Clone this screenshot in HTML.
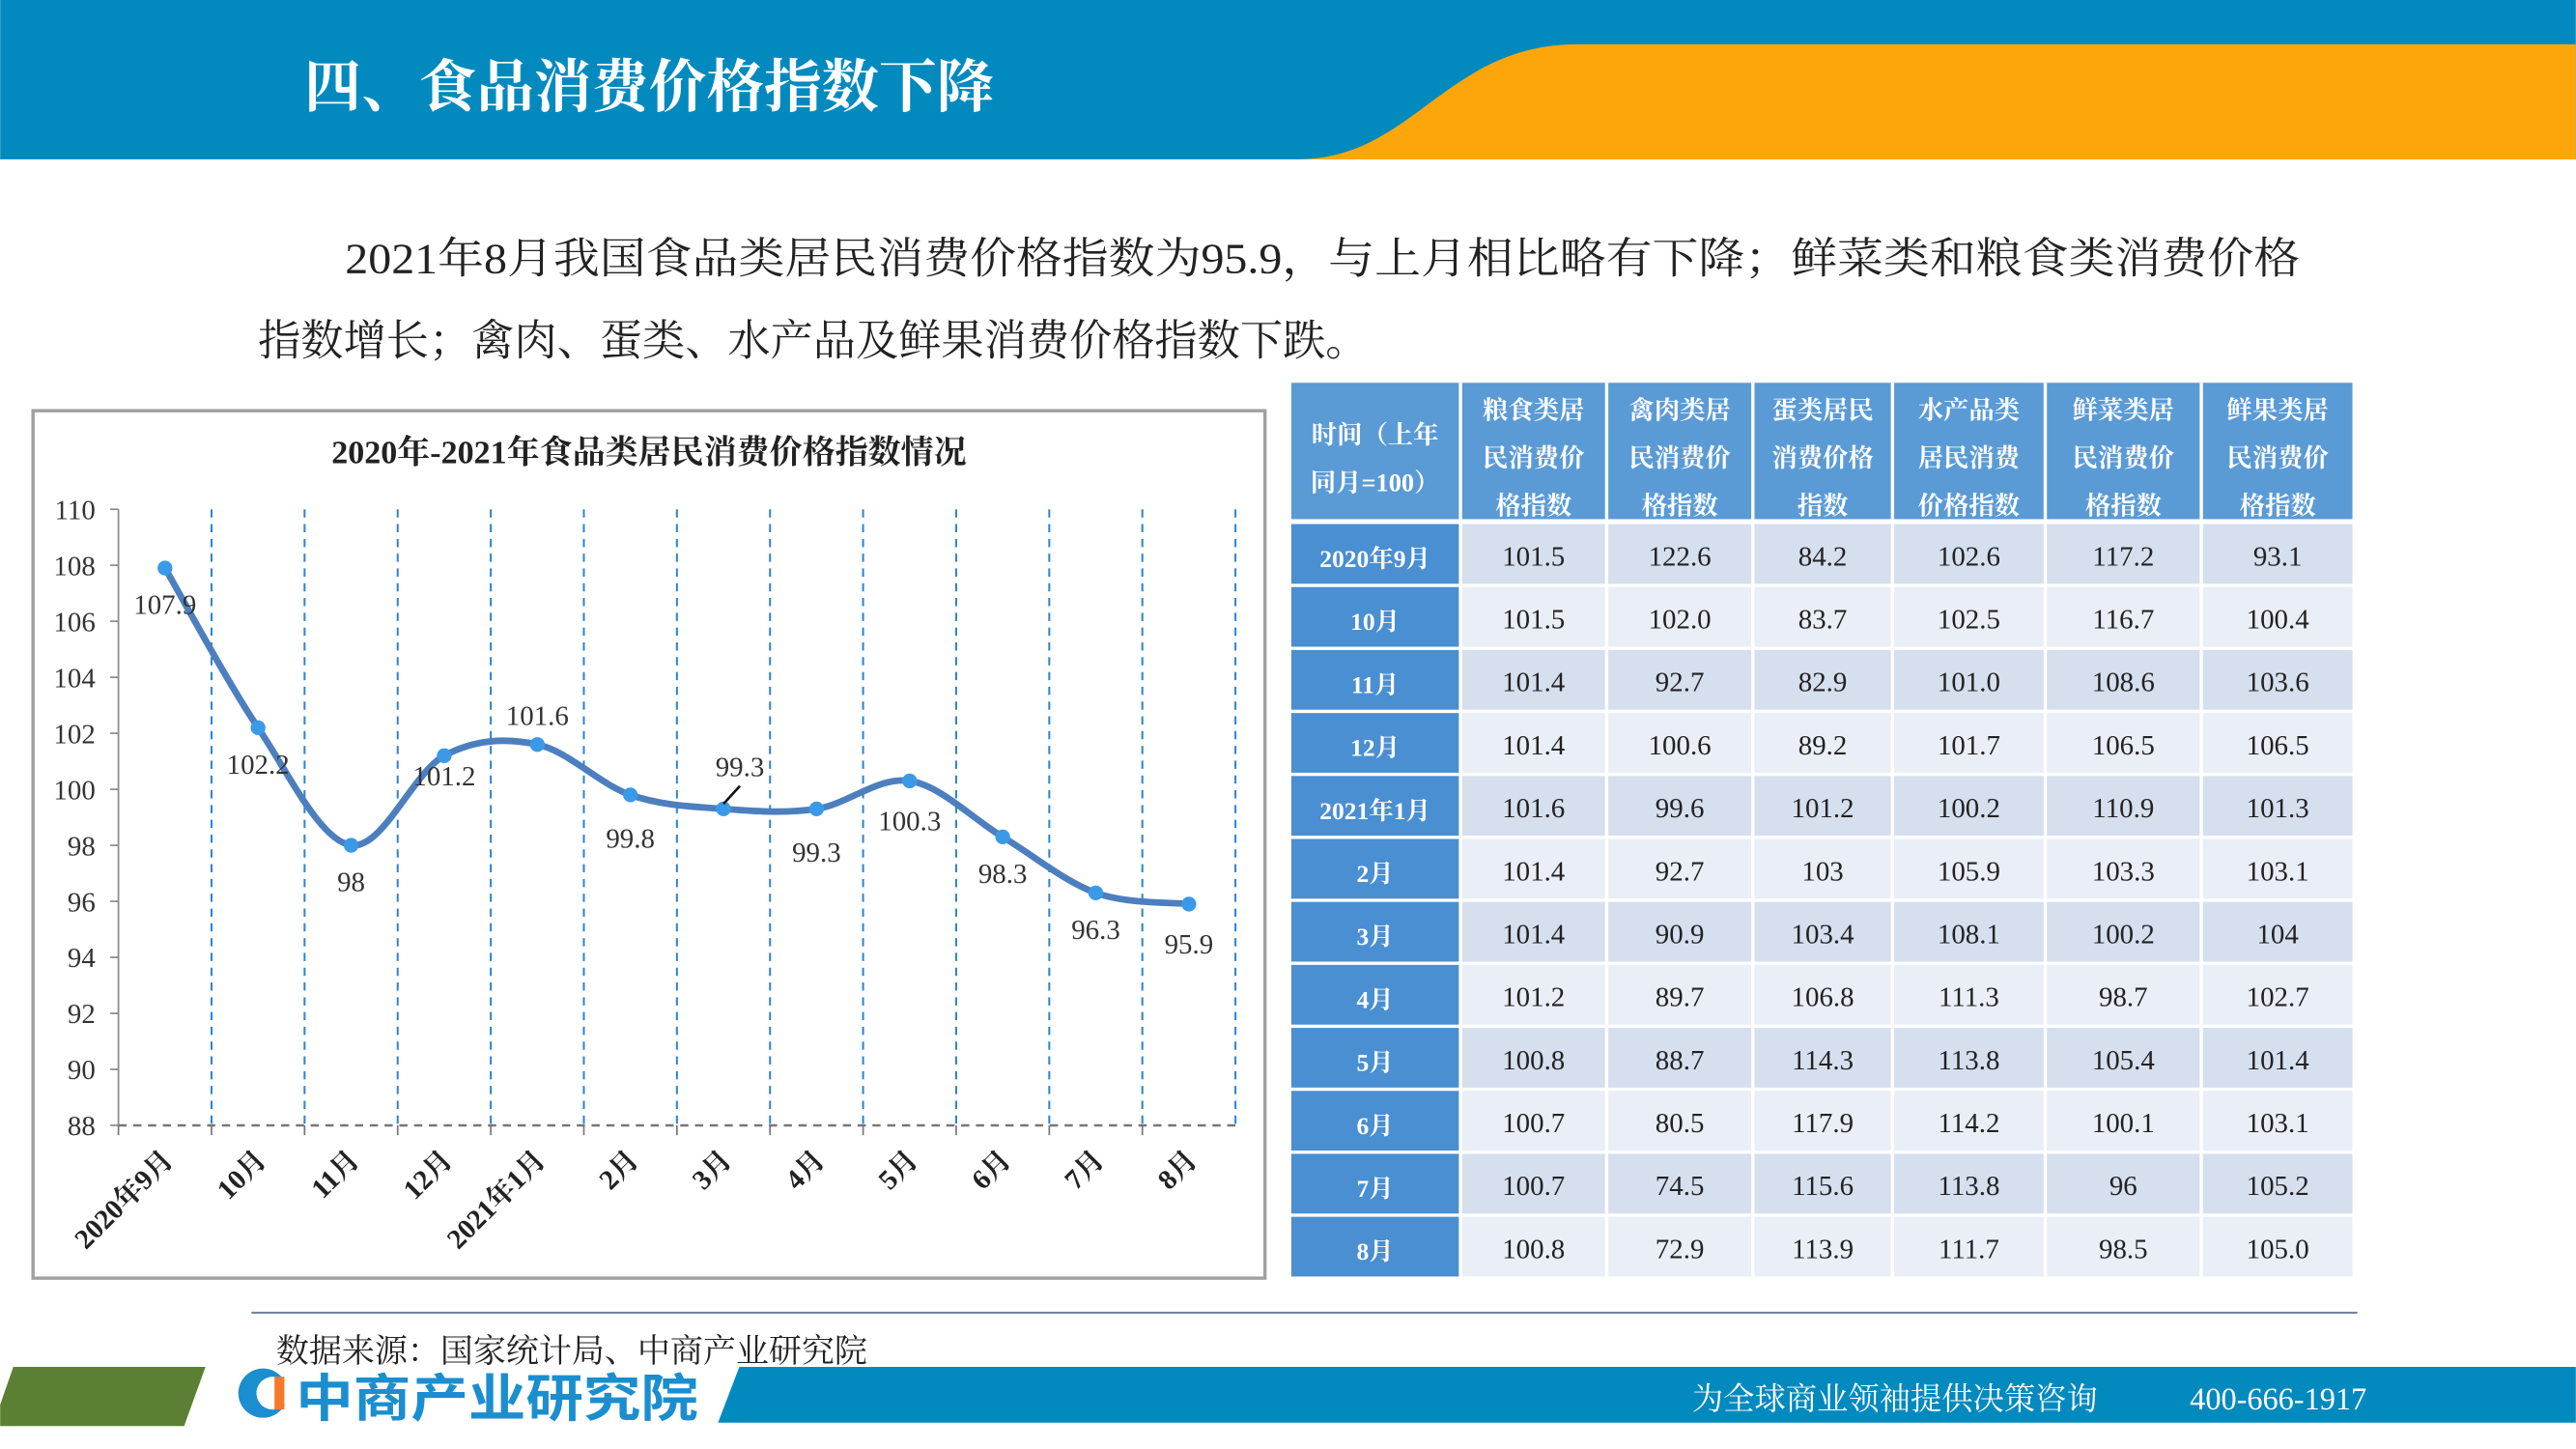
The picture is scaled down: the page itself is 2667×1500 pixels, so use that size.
<!DOCTYPE html>
<html><head><meta charset="utf-8">
<style>
html,body{margin:0;padding:0;background:#fff;}
svg{display:block;}
text{font-family:"Liberation Serif","Noto Serif CJK SC","Noto Sans CJK SC",serif;}
.sans{font-family:"Liberation Sans","Noto Sans CJK SC",sans-serif;}
</style></head>
<body>
<svg id="page" width="2667" height="1500" viewBox="0 0 1568 882" xmlns="http://www.w3.org/2000/svg">
  <rect x="0" y="0" width="1568" height="97" fill="#028abf"/>
  <path d="M790,97 C860,97 880,27 960,27 L1568,27 L1568,97 Z" fill="#fca60c"/>
  <text x="185" y="65" font-size="35" fill="#fff" font-weight="bold">四、食品消费价格指数下降</text>
  <text x="210" y="166" font-size="26" fill="#222" textLength="1190" lengthAdjust="spacingAndGlyphs">2021年8月我国食品类居民消费价格指数为95.9，与上月相比略有下降；鲜菜类和粮食类消费价格</text>
  <text x="157" y="216" font-size="26" fill="#222">指数增长；禽肉、蛋类、水产品及鲜果消费价格指数下跌。</text>
  <rect x="20" y="250" width="750" height="528" fill="#fff" stroke="#a0a0a0" stroke-width="2"/>
  <text x="395" y="282" font-size="20" font-weight="bold" text-anchor="middle" fill="#222">2020年-2021年食品类居民消费价格指数情况</text>
  <g id="chart"></g>
  <g id="table"></g>
  <line x1="153" y1="799" x2="1435" y2="799" stroke="#6c7f99" stroke-width="1.2"/>
  <text x="168" y="829" font-size="20" fill="#222">数据来源：国家统计局、中商产业研究院</text>
  <path d="M8,832 L125,832 L112,868 L0,868 L0,855 Z" fill="#5b8033"/>
  <path d="M450,832 L1568,832 L1568,866 L437,866 Z" fill="#028abf"/>
  <g>
    <circle cx="160" cy="848" r="15" fill="#1b8ecf"/>
    <circle cx="166" cy="848" r="10" fill="#fff"/>
    <rect x="167" y="838" width="6" height="20" fill="#f47a2a"/>
    <text class="sans" x="180" y="862" font-size="31" font-weight="bold" fill="#1b8ecf" textLength="245" lengthAdjust="spacingAndGlyphs">中商产业研究院</text>
  </g>
  <text x="1030" y="858" font-size="19" fill="#fff">为全球商业领袖提供决策咨询</text>
  <text x="1333" y="858" font-size="19" fill="#fff">400-666-1917</text>
</svg>
<script>
const categories=["2020年9月","10月","11月","12月","2021年1月","2月","3月","4月","5月","6月","7月","8月"];
const values=[107.9,102.2,98,101.2,101.6,99.8,99.3,99.3,100.3,98.3,96.3,95.9];
const yTicks=[88,90,92,94,96,98,100,102,104,106,108,110];
const labelOffsets=[[0,28],[0,28],[0,28],[0,18],[0,-12],[0,32],[10,-20],[0,32],[0,30],[0,28],[0,28],[0,30]];

const headerLines=[["时间（上年","同月=100）"],["粮食类居","民消费价","格指数"],["禽肉类居","民消费价","格指数"],["蛋类居民","消费价格","指数"],["水产品类","居民消费","价格指数"],["鲜菜类居","民消费价","格指数"],["鲜果类居","民消费价","格指数"]];
const grain=["101.5","101.5","101.4","101.4","101.6","101.4","101.4","101.2","100.8","100.7","100.7","100.8"];
const poultry=["122.6","102.0","92.7","100.6","99.6","92.7","90.9","89.7","88.7","80.5","74.5","72.9"];
const eggs=["84.2","83.7","82.9","89.2","101.2","103","103.4","106.8","114.3","117.9","115.6","113.9"];
const aquatic=["102.6","102.5","101.0","101.7","100.2","105.9","108.1","111.3","113.8","114.2","113.8","111.7"];
const veg=["117.2","116.7","108.6","106.5","110.9","103.3","100.2","98.7","105.4","100.1","96","98.5"];
const fruit=["93.1","100.4","103.6","106.5","101.3","103.1","104","102.7","101.4","103.1","105.2","105.0"];

const NS="http://www.w3.org/2000/svg";
function mk(tag,attrs,parent){const e=document.createElementNS(NS,tag);for(const k in attrs)e.setAttribute(k,attrs[k]);parent.appendChild(e);return e;}

const chart=document.getElementById('chart');
const x0=72,x1=752,yTop=310,yBot=685,yMin=88,yMax=110;
const bw=(x1-x0)/categories.length;
const xs=i=>x0+bw*(i+0.5);
const ys=v=>yBot-(v-yMin)/(yMax-yMin)*(yBot-yTop);
const yAxis=mk('line',{x1:x0,y1:yTop,x2:x0,y2:yBot,stroke:'#888','stroke-width':1},chart);


yTicks.forEach(t=>{
  const tk=mk('line',{x1:x0-5,y1:ys(t),x2:x0,y2:ys(t),stroke:'#888'},chart);
  
  
  const tl=mk('text',{x:x0-14,y:ys(t)+6,'font-size':17,'text-anchor':'end',fill:'#333'},chart);
  tl.textContent=t;
  
  
});
for(let i=1;i<=categories.length;i++){
  const gx=x0+bw*i;
  const g=mk('line',{x1:gx,y1:yTop,x2:gx,y2:yBot,stroke:'#2e86d0','stroke-width':1.2,'stroke-dasharray':'5,4'},chart);
  
  
}
const base=mk('line',{x1:x0,y1:yBot,x2:x1,y2:yBot,stroke:'#777','stroke-width':1.5,'stroke-dasharray':'5,4'},chart);


categories.forEach((c,i)=>{
  const tk=mk('line',{x1:x0+bw*i,y1:yBot,x2:x0+bw*i,y2:yBot+6,stroke:'#777'},chart);
  
  
  const t=mk('text',{x:xs(i)+6,y:yBot+22,'font-size':17,'font-weight':'bold','text-anchor':'end',fill:'#222',transform:`rotate(-45 ${xs(i)+6} ${yBot+22})`},chart);
  t.textContent=c;
  
  
});
const pts=values.map((v,i)=>[xs(i),ys(v)]);
let d=`M${pts[0][0]},${pts[0][1]}`;
for(let i=0;i<pts.length-1;i++){
  const p0=pts[Math.max(0,i-1)],p1=pts[i],p2=pts[i+1],p3=pts[Math.min(pts.length-1,i+2)];
  const c1=[p1[0]+(p2[0]-p0[0])/6,p1[1]+(p2[1]-p0[1])/6];
  const c2=[p2[0]-(p3[0]-p1[0])/6,p2[1]-(p3[1]-p1[1])/6];
  d+=` C${c1[0]},${c1[1]} ${c2[0]},${c2[1]} ${p2[0]},${p2[1]}`;
}
const line=mk('path',{d:d,fill:'none',stroke:'#4d7fbf','stroke-width':4,'stroke-linecap':'round'},chart);


values.forEach((v,i)=>{
  const c=mk('circle',{cx:xs(i),cy:ys(v),r:4.5,fill:'#3a9ae8'},chart);
  
  
  const o=labelOffsets[i];
  const t=mk('text',{x:xs(i)+o[0],y:ys(v)+o[1],'font-size':17,'text-anchor':'middle',fill:'#333'},chart);
  t.textContent=v;
  
  
});
const leader=mk('line',{x1:xs(6),y1:ys(values[6])-3,x2:xs(6)+10,y2:ys(values[6])-14,stroke:'#111','stroke-width':1.5},chart);



const tbl=document.getElementById('table');
const colX=[785,889,978,1067,1152,1245,1340,1433];
const hTop=233,hBot=318,rowH=(778-318)/12;
const cols=[grain,poultry,eggs,aquatic,veg,fruit];
for(let c=0;c<7;c++){
  const r=mk('rect',{x:colX[c]+1,y:hTop,width:colX[c+1]-colX[c]-2,height:hBot-hTop-2,fill:'#5b9bd5'},tbl);
  
  
  const lines=headerLines[c];
  const startY=c===0?270:255;
  lines.forEach((ln,k)=>{
    const t=mk('text',{x:(colX[c]+colX[c+1])/2,y:startY+k*29,'font-size':15.5,'text-anchor':'middle',fill:'#fff','font-weight':'bold'},tbl);
    t.textContent=ln;
    
    
  });
}
for(let r=0;r<12;r++){
  const y=hBot+r*rowH;
  const rc=mk('rect',{x:colX[0]+1,y:y+1,width:colX[1]-colX[0]-2,height:rowH-2,fill:'#4a8fd2'},tbl);
  
  
  const rt=mk('text',{x:(colX[0]+colX[1])/2,y:y+rowH/2+8,'font-size':15,'text-anchor':'middle',fill:'#fff','font-weight':'bold'},tbl);
  rt.textContent=categories[r];
  
  
  for(let c=0;c<6;c++){
    const cell=mk('rect',{x:colX[c+1]+1,y:y+1,width:colX[c+2]-colX[c+1]-2,height:rowH-2,fill:r%2===0?'#d5dfee':'#e9eef7'},tbl);
    
    
    const t=mk('text',{x:(colX[c+1]+colX[c+2])/2,y:y+rowH/2+7,'font-size':17,'text-anchor':'middle',fill:'#222'},tbl);
    t.textContent=cols[c][r];
    
    
  }
}
</script>
</body></html>
